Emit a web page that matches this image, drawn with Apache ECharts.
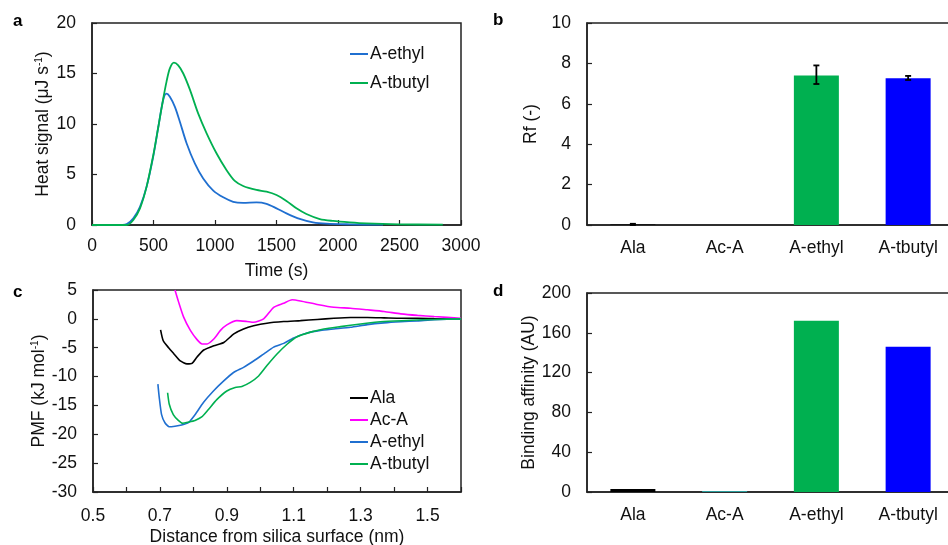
<!DOCTYPE html>
<html><head><meta charset="utf-8">
<script src="https://cdn.jsdelivr.net/npm/echarts@6/dist/echarts.min.js"></script>
<style>html,body{margin:0;padding:0;background:#fff}#c{width:948px;height:545px}</style>
</head><body><div id="c"></div><script>
// Panel a: heat signal vs time
const timeEthyl = [0, 200, 282, 336, 390, 444, 498, 539, 579, 606, 633, 674, 715, 769, 836, 904, 986, 1067, 1148, 1229, 1337, 1419, 1500, 1581, 1689, 1797, 1906, 2095, 2366];
const heatEthyl = [0, 0, 0.1, 0.66, 1.8, 3.8, 6.8, 9.7, 12.4, 13.0, 12.7, 11.7, 10.2, 8.1, 6.1, 4.6, 3.4, 2.74, 2.3, 2.2, 2.24, 2.1, 1.65, 1.15, 0.6, 0.26, 0.13, 0.07, 0.03];
const timeTbutyl = [0, 200, 282, 336, 390, 444, 498, 539, 579, 606, 633, 666, 701, 742, 796, 863, 931, 1012, 1093, 1161, 1229, 1337, 1419, 1500, 1581, 1662, 1743, 1852, 1960, 2095, 2230, 2500, 2852];
const heatTbutyl = [0, 0, 0, 0.5, 1.65, 3.8, 6.9, 9.7, 12.5, 14.2, 15.5, 16.07, 15.8, 15.0, 13.4, 11.05, 9.1, 7.1, 5.45, 4.36, 3.86, 3.47, 3.3, 2.97, 2.38, 1.65, 1.09, 0.59, 0.4, 0.26, 0.16, 0.07, 0.03];

// Panel b / d: categories
const categories = ['Ala', 'Ac-A', 'A-ethyl', 'A-tbutyl'];
const rfValues = [0.03, 0, 7.4, 7.27];
const rfErrHigh = [0.06, null, 7.9, 7.38];
const rfErrLow = [0.0, null, 6.98, 7.18];
const affinityValues = [3, 1, 172, 146];

// Panel c: PMF vs distance
const distAla = [0.702, 0.71, 0.726, 0.741, 0.761, 0.781, 0.796, 0.811, 0.831, 0.861, 0.891, 0.921, 0.95, 0.98, 1.02, 1.07, 1.12, 1.17, 1.22, 1.27, 1.32, 1.37, 1.42, 1.47, 1.52, 1.6];
const pmfAla = [-1.9, -3.8, -5.0, -6.0, -7.3, -7.8, -7.7, -6.6, -5.4, -4.65, -4.1, -2.6, -1.75, -1.2, -0.75, -0.47, -0.3, -0.1, 0.1, 0.23, 0.23, 0.17, 0.1, 0.1, 0.05, 0];
const distAcA = [0.745, 0.756, 0.771, 0.791, 0.811, 0.826, 0.841, 0.861, 0.881, 0.90, 0.93, 0.96, 0.98, 1.01, 1.04, 1.07, 1.095, 1.12, 1.17, 1.22, 1.27, 1.32, 1.37, 1.42, 1.47, 1.52, 1.6];
const pmfAcA = [5.0, 2.9, 0.3, -2.0, -3.6, -4.35, -4.35, -3.5, -2.0, -1.05, -0.3, -0.45, -0.6, 0, 2.0, 2.7, 3.3, 3.1, 2.5, 2.0, 1.85, 1.57, 1.28, 0.87, 0.6, 0.4, 0.1];
const distEthyl = [0.694, 0.698, 0.705, 0.715, 0.728, 0.745, 0.765, 0.785, 0.805, 0.83, 0.86, 0.89, 0.92, 0.95, 0.98, 1.01, 1.04, 1.07, 1.10, 1.14, 1.18, 1.22, 1.27, 1.32, 1.37, 1.42, 1.47, 1.52, 1.6];
const pmfEthyl = [-11.3, -13.6, -16.6, -18.0, -18.7, -18.6, -18.4, -18.0, -16.6, -14.5, -12.5, -10.8, -9.3, -8.4, -7.3, -6.1, -4.9, -4.25, -3.3, -2.45, -2.0, -1.75, -1.45, -1.0, -0.7, -0.5, -0.35, -0.15, 0];
const distTbutyl = [0.723, 0.728, 0.74, 0.755, 0.768, 0.785, 0.805, 0.825, 0.845, 0.87, 0.90, 0.925, 0.945, 0.97, 0.995, 1.02, 1.05, 1.08, 1.11, 1.15, 1.19, 1.24, 1.30, 1.37, 1.45, 1.52, 1.6];
const pmfTbutyl = [-12.8, -14.8, -16.6, -17.6, -18.1, -17.9, -17.6, -17.0, -15.7, -14.0, -12.5, -11.9, -11.7, -11.0, -9.9, -8.1, -6.1, -4.4, -3.1, -2.3, -1.75, -1.35, -0.9, -0.47, -0.23, -0.1, 0];

const pair = (xs, ys) => xs.map((x, i) => [x, ys[i]]);

const FONT = '"Liberation Sans", Arial, sans-serif';
const FS = 17.5;
const AX = '#222';
const TXT = '#111';

const chart = echarts.init(document.getElementById('c'), null, {renderer: 'canvas'});

function valueAxisY(gridIndex, min, max, interval, name, nameGap, rich) {
  return {
    type: 'value', gridIndex, min, max, interval,
    name, nameLocation: 'middle', nameGap,
    nameTextStyle: {fontFamily: FONT, fontSize: FS, color: TXT, rich: rich || {}},
    axisLine: {show: true, onZero: false, lineStyle: {color: AX, width: 1.5}},
    axisTick: {show: true, inside: true, length: 5, lineStyle: {color: AX, width: 1.2}},
    axisLabel: {fontFamily: FONT, fontSize: FS, color: TXT, margin: 16, formatter: v => String(v)},
    splitLine: {show: false}
  };
}

const supRich = {sup: {fontFamily: FONT, fontSize: 10, color: TXT, verticalAlign: 'top', padding: [0, 0, 8, 0]}};

const errRender = (params, api) => {
  const x = api.value(0);
  const hiV = api.value(1), loV = api.value(2);
  if (hiV == null || isNaN(hiV)) return null;
  const top = api.coord([x, hiV]);
  const bot = api.coord([x, loV]);
  const w = 3;
  const st = {stroke: '#000', lineWidth: 1.8};
  return {type: 'group', children: [
    {type: 'line', shape: {x1: top[0], y1: top[1], x2: bot[0], y2: bot[1]}, style: st},
    {type: 'line', shape: {x1: top[0] - w, y1: top[1], x2: top[0] + w, y2: top[1]}, style: st},
    {type: 'line', shape: {x1: bot[0] - w, y1: bot[1], x2: bot[0] + w, y2: bot[1]}, style: st}
  ]};
};

const barColors = ['#000000', '#2a9d9d', '#00b050', '#0000ff'];
const gridBase = {show: true, borderColor: AX, borderWidth: 1.5, backgroundColor: 'transparent', containLabel: false, outerBoundsMode: 'none'};

const option = {
  animation: false,
  backgroundColor: '#fff',
  textStyle: {fontFamily: FONT},
  grid: [
    Object.assign({left: 92, top: 23, width: 369, height: 202}, gridBase),
    Object.assign({left: 587, top: 23, width: 367, height: 202}, gridBase),
    Object.assign({left: 93, top: 290, width: 368, height: 202}, gridBase),
    Object.assign({left: 587, top: 293, width: 367, height: 199}, gridBase)
  ],
  xAxis: [
    {type: 'value', gridIndex: 0, min: 0, max: 3000, interval: 500,
     name: 'Time (s)', nameLocation: 'middle', nameGap: 37,
     nameTextStyle: {fontFamily: FONT, fontSize: FS, color: TXT},
     axisLine: {show: true, onZero: false, lineStyle: {color: AX, width: 1.5}},
     axisTick: {show: true, inside: true, length: 5, lineStyle: {color: AX, width: 1.2}},
     axisLabel: {fontFamily: FONT, fontSize: FS, color: TXT, margin: 12, formatter: v => String(v)},
     splitLine: {show: false}},
    {type: 'category', gridIndex: 1, data: categories,
     axisLine: {show: true, onZero: false, lineStyle: {color: AX, width: 1.5}},
     axisTick: {show: false},
     axisLabel: {fontFamily: FONT, fontSize: FS, color: TXT, margin: 14}},
    {type: 'value', gridIndex: 2, min: 0.5, max: 1.6, interval: 0.1,
     name: 'Distance from silica surface (nm)', nameLocation: 'middle', nameGap: 36,
     nameTextStyle: {fontFamily: FONT, fontSize: FS, color: TXT},
     axisLine: {show: true, onZero: false, lineStyle: {color: AX, width: 1.5}},
     axisTick: {show: true, inside: true, length: 5, lineStyle: {color: AX, width: 1.2}},
     axisLabel: {fontFamily: FONT, fontSize: FS, color: TXT, margin: 15,
       formatter: v => { const k = Math.round(v * 10); return (k % 2 === 1) ? (k / 10).toFixed(1) : ''; }},
     splitLine: {show: false}},
    {type: 'category', gridIndex: 3, data: categories,
     axisLine: {show: true, onZero: false, lineStyle: {color: AX, width: 1.5}},
     axisTick: {show: false},
     axisLabel: {fontFamily: FONT, fontSize: FS, color: TXT, margin: 14}}
  ],
  yAxis: [
    valueAxisY(0, 0, 20, 5, 'Heat signal (μJ s{sup|-1})', 39, supRich),
    valueAxisY(1, 0, 10, 2, 'Rf (-)', 47),
    valueAxisY(2, -30, 5, 5, 'PMF (kJ mol{sup|-1})', 40, supRich),
    valueAxisY(3, 0, 200, 40, 'Binding affinity (AU)', 47)
  ],
  legend: [
    {data: ['A-ethyl', 'A-tbutyl'], left: 350, top: 45, orient: 'vertical', itemGap: 11, padding: 0,
     icon: 'rect', itemWidth: 18, itemHeight: 2, selectedMode: false,
     textStyle: {fontFamily: FONT, fontSize: FS, color: TXT, padding: [0, 0, 0, -3]}},
    {data: ['Ala', 'Ac-A', 'A-ethyl ', 'A-tbutyl '], left: 350, top: 389, orient: 'vertical', itemGap: 4, padding: 0,
     icon: 'rect', itemWidth: 18, itemHeight: 2, selectedMode: false,
     formatter: n => n.trim(),
     textStyle: {fontFamily: FONT, fontSize: FS, color: TXT, padding: [0, 0, 0, -3]}}
  ],
  graphic: [
    {type: 'text', left: 13, top: 13, style: {text: 'a', font: 'bold 17px ' + FONT, fill: '#000'}},
    {type: 'text', left: 493, top: 12, style: {text: 'b', font: 'bold 17px ' + FONT, fill: '#000'}},
    {type: 'text', left: 13, top: 284, style: {text: 'c', font: 'bold 17px ' + FONT, fill: '#000'}},
    {type: 'text', left: 493, top: 283, style: {text: 'd', font: 'bold 17px ' + FONT, fill: '#000'}}
  ],
  series: [
    {name: 'A-ethyl', type: 'line', xAxisIndex: 0, yAxisIndex: 0, data: pair(timeEthyl, heatEthyl),
     showSymbol: false, smooth: 0.3, lineStyle: {color: '#1f6fd0', width: 1.8}, itemStyle: {color: '#1f6fd0'}},
    {name: 'A-tbutyl', type: 'line', xAxisIndex: 0, yAxisIndex: 0, data: pair(timeTbutyl, heatTbutyl),
     showSymbol: false, smooth: 0.3, lineStyle: {color: '#00b050', width: 1.8}, itemStyle: {color: '#00b050'}},
    {name: 'Rf', type: 'bar', xAxisIndex: 1, yAxisIndex: 1, barWidth: 45,
     data: rfValues.map((v, i) => ({value: v, itemStyle: {color: barColors[i]}}))},
    {name: 'RfErr', type: 'custom', xAxisIndex: 1, yAxisIndex: 1, renderItem: errRender,
     encode: {x: 0, y: [1, 2]}, z: 10,
     data: categories.map((c, i) => [i, rfErrHigh[i], rfErrLow[i]])},
    {name: 'Ala', type: 'line', xAxisIndex: 2, yAxisIndex: 2, data: pair(distAla, pmfAla),
     showSymbol: false, smooth: 0.2, lineStyle: {color: '#000000', width: 1.6}, itemStyle: {color: '#000000'}},
    {name: 'Ac-A', type: 'line', xAxisIndex: 2, yAxisIndex: 2, data: pair(distAcA, pmfAcA),
     showSymbol: false, smooth: 0.2, lineStyle: {color: '#ff00ff', width: 1.6}, itemStyle: {color: '#ff00ff'}},
    {name: 'A-ethyl ', type: 'line', xAxisIndex: 2, yAxisIndex: 2, data: pair(distEthyl, pmfEthyl),
     showSymbol: false, smooth: 0.2, lineStyle: {color: '#1f6fd0', width: 1.6}, itemStyle: {color: '#1f6fd0'}},
    {name: 'A-tbutyl ', type: 'line', xAxisIndex: 2, yAxisIndex: 2, data: pair(distTbutyl, pmfTbutyl),
     showSymbol: false, smooth: 0.2, lineStyle: {color: '#00b050', width: 1.6}, itemStyle: {color: '#00b050'}},
    {name: 'Affinity', type: 'bar', xAxisIndex: 3, yAxisIndex: 3, barWidth: 45,
     data: affinityValues.map((v, i) => ({value: v, itemStyle: {color: barColors[i]}}))}
  ]
};
chart.setOption(option);
</script></body></html>
